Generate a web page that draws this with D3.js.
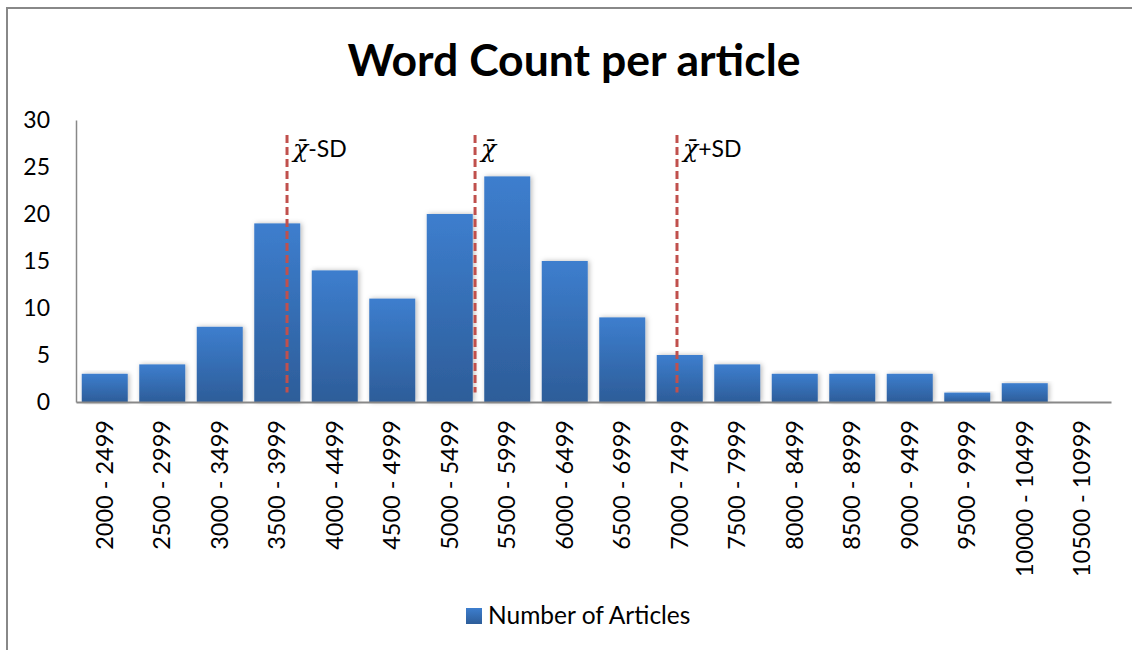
<!DOCTYPE html>
<html>
<head>
<meta charset="utf-8">
<script src="https://cdn.jsdelivr.net/npm/d3@7"></script>
<style>
  html, body { margin: 0; padding: 0; background: #fff; }
  svg { display: block; }
  text { font-family: Lato, "Open Sans", sans-serif; fill: #000; }
</style>
</head>
<body>
<svg id="chart" width="1132" height="650"></svg>
<script>
// Word-count bins (words per article) and how many articles fall into each
const categories = [
  "2000 - 2499", "2500 - 2999", "3000 - 3499", "3500 - 3999", "4000 - 4499",
  "4500 - 4999", "5000 - 5499", "5500 - 5999", "6000 - 6499", "6500 - 6999",
  "7000 - 7499", "7500 - 7999", "8000 - 8499", "8500 - 8999", "9000 - 9499",
  "9500 - 9999", "10000 - 10499", "10500 - 10999"
];
const articleCounts = [3, 4, 8, 19, 14, 11, 20, 24, 15, 9, 5, 4, 3, 3, 3, 1, 2, 0];
const yTicks = [0, 5, 10, 15, 20, 25, 30];

// Reference lines: mean word count and one standard deviation either side
const markerNames = ["-SD", "", "+SD"];
const markerWords = [3835, 5470, 7226];

const seriesName = "Number of Articles";
const title = "Word Count per article";

const svg = d3.select("#chart");
const W = 1132, H = 650;
const plot = { left: 76, right: 1111, top: 120, bottom: 402 };

// outer chart frame
svg.append("rect")
  .attr("x", 7).attr("y", 8)
  .attr("width", W + 10).attr("height", H + 10)
  .attr("fill", "none").attr("stroke", "#888").attr("stroke-width", 2);

const defs = svg.append("defs");
const grad = defs.append("linearGradient")
  .attr("id", "barGrad").attr("x1", 0).attr("y1", 0).attr("x2", 0).attr("y2", 1);
grad.append("stop").attr("offset", "0%").attr("stop-color", "#3d7ece");
grad.append("stop").attr("offset", "100%").attr("stop-color", "#2d5d99");

const shadow = defs.append("filter").attr("id", "barShadow")
  .attr("x", "-30%").attr("y", "-10%").attr("width", "160%").attr("height", "120%");
shadow.append("feDropShadow")
  .attr("dx", 1.5).attr("dy", 0).attr("stdDeviation", 2.5)
  .attr("flood-color", "#000").attr("flood-opacity", 0.28);

const x = d3.scaleBand()
  .domain(categories)
  .range([plot.left, plot.right])
  .paddingInner(0.2).paddingOuter(0.1);

const y = d3.scaleLinear()
  .domain([0, 30])
  .range([plot.bottom, plot.top]);

// continuous word-count scale aligned with the bins
const xw = d3.scaleLinear()
  .domain([2000, 2000 + 500 * categories.length])
  .range([plot.left, plot.right]);

// title
svg.append("text")
  .attr("x", 574).attr("y", 76)
  .attr("text-anchor", "middle")
  .style("font-size", "44.5px").style("font-weight", "bold")
  .text(title);

// bars
svg.append("g").selectAll("rect")
  .data(categories.map((c, i) => ({ c, v: articleCounts[i] })).filter(d => d.v > 0))
  .join("rect")
  .attr("x", d => x(d.c))
  .attr("y", d => y(d.v))
  .attr("width", x.bandwidth())
  .attr("height", d => y(0) - y(d.v))
  .attr("fill", "url(#barGrad)")
  .attr("filter", "url(#barShadow)");

// y axis
const yAxis = svg.append("g")
  .attr("transform", `translate(${plot.left},0)`)
  .call(d3.axisLeft(y).tickValues(yTicks).tickSize(0).tickPadding(26));
yAxis.select(".domain").attr("stroke", "#888").attr("stroke-width", 1.5);
yAxis.selectAll("text").style("font-size", "23px").attr("font-family", null);

// x axis
const xAxis = svg.append("g")
  .attr("transform", `translate(0,${plot.bottom})`)
  .call(d3.axisBottom(x).tickSize(0).tickSizeOuter(0));
xAxis.select(".domain").attr("stroke", "#888").attr("stroke-width", 2);
xAxis.selectAll("text")
  .attr("font-family", null)
  .style("font-size", "23.5px")
  .attr("transform", "rotate(-90)")
  .attr("text-anchor", "end")
  .attr("x", -18)
  .attr("y", 0)
  .attr("dy", "0.35em");

// mean / SD marker lines
const markers = svg.append("g");
markerWords.forEach((w, i) => {
  const mx = xw(w);
  markers.append("line")
    .attr("x1", mx).attr("x2", mx)
    .attr("y1", y(28.4)).attr("y2", y(1))
    .attr("stroke", "#c0504d").attr("stroke-width", 3)
    .attr("stroke-dasharray", "8,4");
  const t = markers.append("text")
    .attr("x", mx + 6).attr("y", y(26.1))
    .style("font-size", "23px");
  t.append("tspan")
    .style("font-family", "'DejaVu Serif', serif")
    .style("font-style", "italic")
    .style("font-size", "25px")
    .text("\u03C7\u0304");
  if (markerNames[i]) t.append("tspan").text(markerNames[i]);
});

// legend
const legend = svg.append("g");
legend.append("rect")
  .attr("x", 466).attr("y", 608).attr("width", 16).attr("height", 16)
  .attr("fill", "url(#barGrad)");
legend.append("text")
  .attr("x", 488).attr("y", 624)
  .style("font-size", "24.5px")
  .text(seriesName);
</script>
</body>
</html>
